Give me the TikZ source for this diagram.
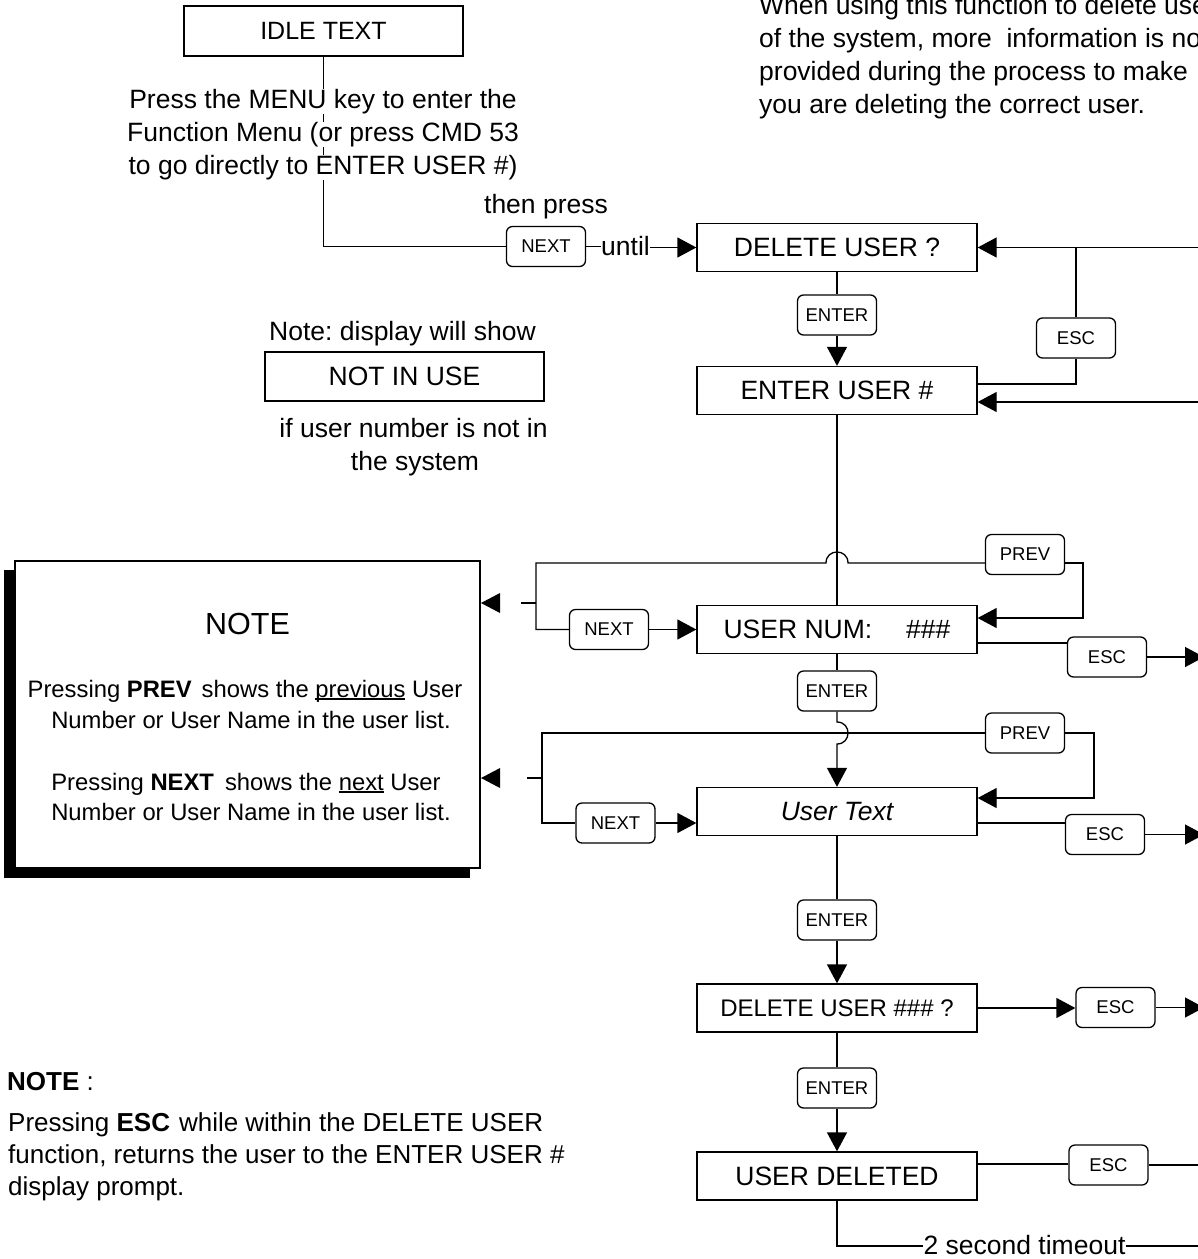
\documentclass[tikz,border=0pt]{standalone}
\usepackage{fontspec}
\setmainfont{Liberation Sans}
\usetikzlibrary{arrows.meta}
\frenchspacing
\newcommand\myul[1]{\setbox0\hbox{#1}\rlap{\rule[-2.5pt]{\wd0}{1.1pt}}\box0\relax}
\begin{document}
\begin{tikzpicture}[x=1pt,y=-1pt,
  ln/.style={line width=1.3pt},
  arr/.style={line width=1.3pt,-{Triangle[length=19pt,width=20pt]}},
  disp/.style={draw,line width=1.3pt,fill=white,minimum width=280pt,minimum height=48pt,inner sep=0pt,font=\fontsize{26.5}{30}\selectfont},
  key/.style={draw,rounded corners=6pt,line width=1.3pt,fill=white,minimum width=79pt,minimum height=40pt,inner sep=0pt,font=\fontsize{18.5}{20}\selectfont},
  txt/.style={inner sep=0pt,font=\fontsize{26.5}{30}\selectfont,anchor=base},
  ntxt/.style={inner sep=0pt,font=\fontsize{23.8}{28}\selectfont,anchor=base},
  ltxt/.style={inner sep=0pt,font=\fontsize{26}{30}\selectfont,anchor=base west}]
\useasboundingbox (0,0) rectangle (1198,1259);

% top right text
\node[ltxt,font=\fontsize{26.5}{30}\selectfont] (w1) at (759,14) {When using this function to delete use};
\node[ltxt,font=\fontsize{26.5}{30}\selectfont] (w2) at (759,47) {of the system, more\ \ information is no};
\node[ltxt,font=\fontsize{26.5}{30}\selectfont] (w3) at (759,80) {provided during the process to make};
\node[ltxt,font=\fontsize{26.5}{30}\selectfont] (w4) at (759,113) {you are deleting the correct user.};

% idle
\node[disp,minimum width=279pt,minimum height=50pt,font=\fontsize{25}{28}\selectfont] (idle) at (323.5,31) {IDLE TEXT};
\node[key] (next1) at (546,246.5) {NEXT};
\draw[ln] (idle.south) |- (next1.west);
\node[txt,fill=white] (m1) at (323,108.5) {Press the MENU key to enter the};
\node[txt,fill=white] (m2) at (323,141.5) {Function Menu (or press CMD 53};
\node[txt,fill=white] (m3) at (323,174.5) {to go directly to ENTER USER \#)};
\node[txt] (tp) at (546,213.5) {then press};
\node[txt] (until) at (625.5,255) {until};

\node[disp] (del) at (837,247.5) {DELETE USER ?};
\draw[ln] (next1.east) -- (until.west |- next1.east);
\draw[arr] (until.east |- del.west) -- (del.west);
\draw[arr] (1205,247.5) -- (del.east);

\node[key] (e1) at (837,315) {ENTER};
\node[disp] (enu) at (837,390.5) {ENTER USER \#};
\draw[ln] (del.south) -- (e1.north);
\draw[arr] (e1.south) -- (enu.north);
\node[key] (esc1) at (1076,338) {ESC};
\draw[ln] (esc1.north) -- (esc1.north |- del.east);
\draw[ln] (esc1.south) |- (enu.east |- 0,384);
\draw[arr] (1205,402) -- (enu.east |- 0,402);

% not in use
\node[txt] (nd1) at (402.5,340) {Note: display will show};
\node[disp,minimum width=279pt,minimum height=49pt] (niu) at (404.5,376.5) {NOT IN USE};
\node[txt] (nd2) at (413.5,437) {if user number is not in};
\node[txt] (nd3) at (415,470) {the system};

% user num
\node[disp] (unum) at (837,629.5) {USER NUM:\hspace{34pt}\#\#\#};
\draw[ln] (enu.south) -- (unum.north);
\node[key] (prev1) at (1025,554.5) {PREV};
\node[key] (next2) at (609,629.5) {NEXT};
\draw[arr] (prev1.east |- 0,563) -- (1083,563) -- (1083,618) -- (unum.east |- 0,618);
\draw[ln] (prev1.west |- 0,563) -- (848,563) .. controls (848,548.3) and (826,548.3) .. (826,563) -- (536,563) |- (next2.west);
\draw[arr] (next2.east) -- (unum.west);
\draw[ln] (536,603) -- (521,603);
\fill (481,603) -- (500,593) -- (500,613) -- cycle;
\node[key] (esc2) at (1107,657) {ESC};
\draw[ln] (unum.east |- 0,643) -- (esc2.west |- 0,643);
\draw[arr] (esc2.east) -- (1204,657);

% user text
\node[key] (e2) at (837,691) {ENTER};
\node[disp,font=\fontsize{26.5}{30}\selectfont\itshape] (utext) at (837,811.5) {User Text};
\draw[ln] (unum.south) -- (e2.north);
\draw[arr] (e2.south) -- (837,722) .. controls (851.7,722) and (851.7,744) .. (837,744) -- (utext.north);
\node[key] (prev2) at (1025,733) {PREV};
\node[key] (next3) at (615.5,823) {NEXT};
\draw[arr] (prev2.east) -- (1094,733) -- (1094,798) -- (utext.east |- 0,798);
\draw[ln] (prev2.west) -- (542,733) |- (next3.west);
\draw[arr] (next3.east) -- (utext.west |- next3.east);
\draw[ln] (542,778) -- (527,778);
\fill (481,778) -- (500,768) -- (500,788) -- cycle;
\node[key] (esc3) at (1105,834.5) {ESC};
\draw[ln] (utext.east |- 0,823) -- (esc3.west |- 0,823);
\draw[arr] (esc3.east) -- (1204,834.5);

% delete user ###
\node[key] (e3) at (837,920) {ENTER};
\node[disp,font=\fontsize{24}{28}\selectfont] (duq) at (837,1008) {DELETE USER \#\#\# ?};
\draw[ln] (utext.south) -- (e3.north);
\draw[arr] (e3.south) -- (duq.north);
\node[key] (esc4) at (1115.5,1007.5) {ESC};
\draw[arr] (duq.east) -- (esc4.west |- duq.east);
\draw[arr] (esc4.east) -- (1204,1007.5);

% user deleted
\node[key] (e4) at (837,1088) {ENTER};
\node[disp] (udel) at (837,1176) {USER DELETED};
\draw[ln] (duq.south) -- (e4.north);
\draw[arr] (e4.south) -- (udel.north);
\node[key] (esc5) at (1108.5,1165) {ESC};
\draw[ln] (udel.east |- 0,1164) -- (esc5.west |- 0,1164);
\draw[ln] (esc5.east) -- (1204,1165);
\node[txt] (tmo) at (1024.5,1254) {2 second timeout};
\draw[ln] (udel.south) |- (tmo.west |- 0,1246);
\draw[ln] (tmo.east |- 0,1246) -- (1204,1246);

% NOTE box
\fill (4,570) rectangle (470,878);
\node[draw,line width=1.3pt,fill=white,minimum width=465pt,minimum height=307pt,inner sep=0pt] (notebox) at (247.5,714.5) {};
\node[txt,font=\fontsize{30.5}{34}\selectfont] (nt) at (247.5,634) {NOTE};
\node[ntxt] (nb1) at (245,697) {Pressing \textbf{PREV}\hspace{10pt}shows the \myul{previous} User};
\node[ntxt] (nb2) at (251,728) {Number or User Name in the user list.};
\node[ntxt] (nb3) at (246,790) {Pressing \textbf{NEXT}\hspace{11pt}shows the \myul{next} User};
\node[ntxt] (nb4) at (251,820) {Number or User Name in the user list.};

% bottom left note
\node[ltxt] (bn0) at (7,1090) {\textbf{NOTE} :};
\node[ltxt] (bn1) at (8,1131) {Pressing \textbf{ESC}\hspace{9pt}while within the DELETE USER};
\node[ltxt] (bn2) at (8,1163) {function, returns the user to the ENTER USER \#};
\node[ltxt] (bn3) at (8,1195) {display prompt.};
\end{tikzpicture}
\end{document}
